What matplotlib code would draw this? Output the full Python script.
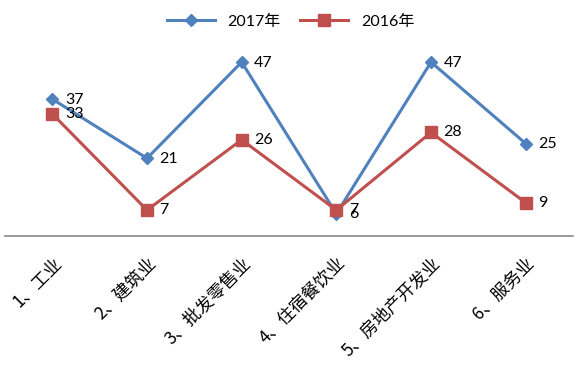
import numpy as np
import matplotlib
matplotlib.use('Agg')
import matplotlib.pyplot as plt

plt.rcParams['font.family'] = ['Lato', 'Noto Sans CJK SC', 'DejaVu Sans']

categories = ['1、工业', '2、建筑业', '3、批发零售业', '4、住宿餐饮业', '5、房地产开发业', '6、服务业']
vals_2017 = [37, 21, 47, 6, 47, 25]
vals_2016 = [33, 7, 26, 7, 28, 9]
series_names = ['2017年', '2016年']

blue = '#4F81BD'
red = '#C0504D'

fig = plt.figure(figsize=(5.81, 3.75), dpi=100)
ax = fig.add_axes([5 / 581, 139 / 375, 568 / 581, (236 - 32.5) / 375])

x = np.arange(len(categories))
ax.plot(x, vals_2017, color=blue, lw=2.2, marker='D', ms=6.5, label=series_names[0])
ax.plot(x, vals_2016, color=red, lw=2.2, marker='s', ms=8, label=series_names[1])

# data labels to the right of each point
for xi, v in zip(x, vals_2017):
    ax.annotate(str(v), (xi, v), xytext=(9, -0.5), textcoords='offset points',
                va='center', ha='left', fontsize=11.5)
for xi, v in zip(x, vals_2016):
    ax.annotate(str(v), (xi, v), xytext=(9, 0), textcoords='offset points',
                va='center', ha='left', fontsize=11.5)

ax.set_xlim(-0.5, len(categories) - 0.5)
ax.set_ylim(0, 55)
ax.set_yticks([])
ax.set_xticks(x)
ax.set_xticklabels(categories, rotation=45, ha='right', va='top',
                   rotation_mode='anchor', fontsize=12.5,
                   family=['Noto Sans CJK SC', 'DejaVu Sans'])
ax.tick_params(axis='x', length=0, pad=13)
for s in ['top', 'left', 'right']:
    ax.spines[s].set_visible(False)
ax.spines['bottom'].set_color('#888888')
ax.spines['bottom'].set_linewidth(1.2)
ax.patch.set_alpha(0)

fig.legend(loc='upper center', bbox_to_anchor=(0.5, 1.0), ncol=2, frameon=False,
           fontsize=11.5, handlelength=3, columnspacing=1.2)

fig.savefig('out.png', dpi=100)
